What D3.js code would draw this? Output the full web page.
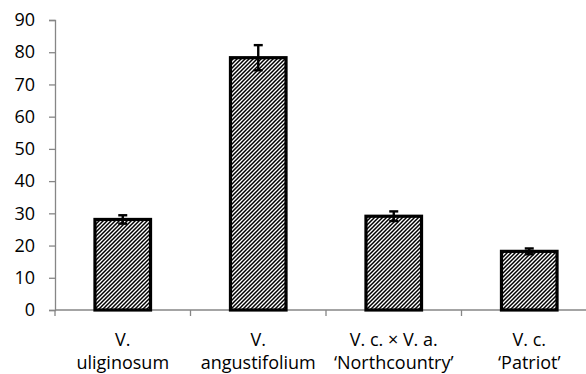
<!DOCTYPE html>
<html><head><meta charset="utf-8">
<script src="https://cdn.jsdelivr.net/npm/d3@7"></script>
<style>body{margin:0;background:#fff}svg{display:block}text{font-family:"Open Sans",sans-serif;fill:#000}</style>
</head><body><svg id="c" width="586" height="374"></svg>
<script>
const categories = [["V.","uliginosum"],["V.","angustifolium"],["V. c. \u00d7 V. a.","\u2018Northcountry\u2019"],["V. c.","\u2018Patriot\u2019"]];
const values = [28.1, 78.3, 29.1, 18.2];
const errors = [1.3, 3.9, 1.5, 0.9];
const yTicks = [0,10,20,30,40,50,60,70,80,90];

const svg = d3.select("#c");
const mLeft = 55, mTop = 20, mBottom = 310, bandW = 135.5;
const x = d3.scaleBand().domain(d3.range(categories.length)).range([mLeft, mLeft + bandW*categories.length]).paddingInner(0.59).paddingOuter(0.295);
const y = d3.scaleLinear().domain([0,90]).range([mBottom, mTop]);

const defs = svg.append("defs");
const pat = defs.append("pattern").attr("id","hatch").attr("patternUnits","userSpaceOnUse")
  .attr("width",4).attr("height",4);
pat.append("rect").attr("width",4).attr("height",4).attr("fill","#fff");
pat.append("path").attr("d","M0,4L4,0M-1,1L1,-1M3,5L5,3").attr("stroke","#000").attr("stroke-width",1.5);

const gray = "#868686";
// y axis
const ya = svg.append("g").attr("transform",`translate(${mLeft},0)`)
  .call(d3.axisLeft(y).tickValues(yTicks).tickSize(6).tickPadding(14));
ya.select(".domain").attr("stroke",gray).attr("stroke-width",1.3);
ya.selectAll(".tick line").attr("stroke",gray).attr("stroke-width",1.3);
ya.selectAll(".tick text").attr("font-size",18).attr("font-family","Open Sans").attr("fill","#000");

// x axis
const xa = svg.append("g").attr("transform",`translate(0,${mBottom})`);
xa.append("line").attr("x1",mLeft).attr("x2",586).attr("y1",0).attr("y2",0).attr("stroke",gray).attr("stroke-width",1.3);
d3.range(categories.length+1).forEach(i=>{
  const xx = mLeft + i*bandW;
  xa.append("line").attr("x1",xx).attr("x2",xx).attr("y1",0).attr("y2",6).attr("stroke",gray).attr("stroke-width",1.3);
});

// bars
svg.append("g").selectAll("rect").data(values).join("rect")
  .attr("x",(d,i)=>x(i)).attr("width",x.bandwidth())
  .attr("y",d=>y(d)).attr("height",d=>mBottom-y(d))
  .attr("fill","url(#hatch)").attr("stroke","#000").attr("stroke-width",3.2);

// error bars
const eg = svg.append("g").attr("stroke","#000").attr("stroke-width",2.4);
values.forEach((v,i)=>{
  const cx = x(i)+x.bandwidth()/2;
  eg.append("line").attr("x1",cx).attr("x2",cx).attr("y1",y(v+errors[i])).attr("y2",y(v-errors[i]));
  [v+errors[i], v-errors[i]].forEach(e=>{
    eg.append("line").attr("x1",cx-4.5).attr("x2",cx+4.5).attr("y1",y(e)).attr("y2",y(e));
  });
});

// category labels
const lg = svg.append("g").attr("font-size",18).attr("text-anchor","middle");
categories.forEach((c,i)=>{
  const cx = mLeft + (i+0.5)*bandW;
  c.forEach((t,j)=>{
    lg.append("text").attr("x",cx).attr("y",346+j*23).text(t);
  });
});
</script></body></html>
